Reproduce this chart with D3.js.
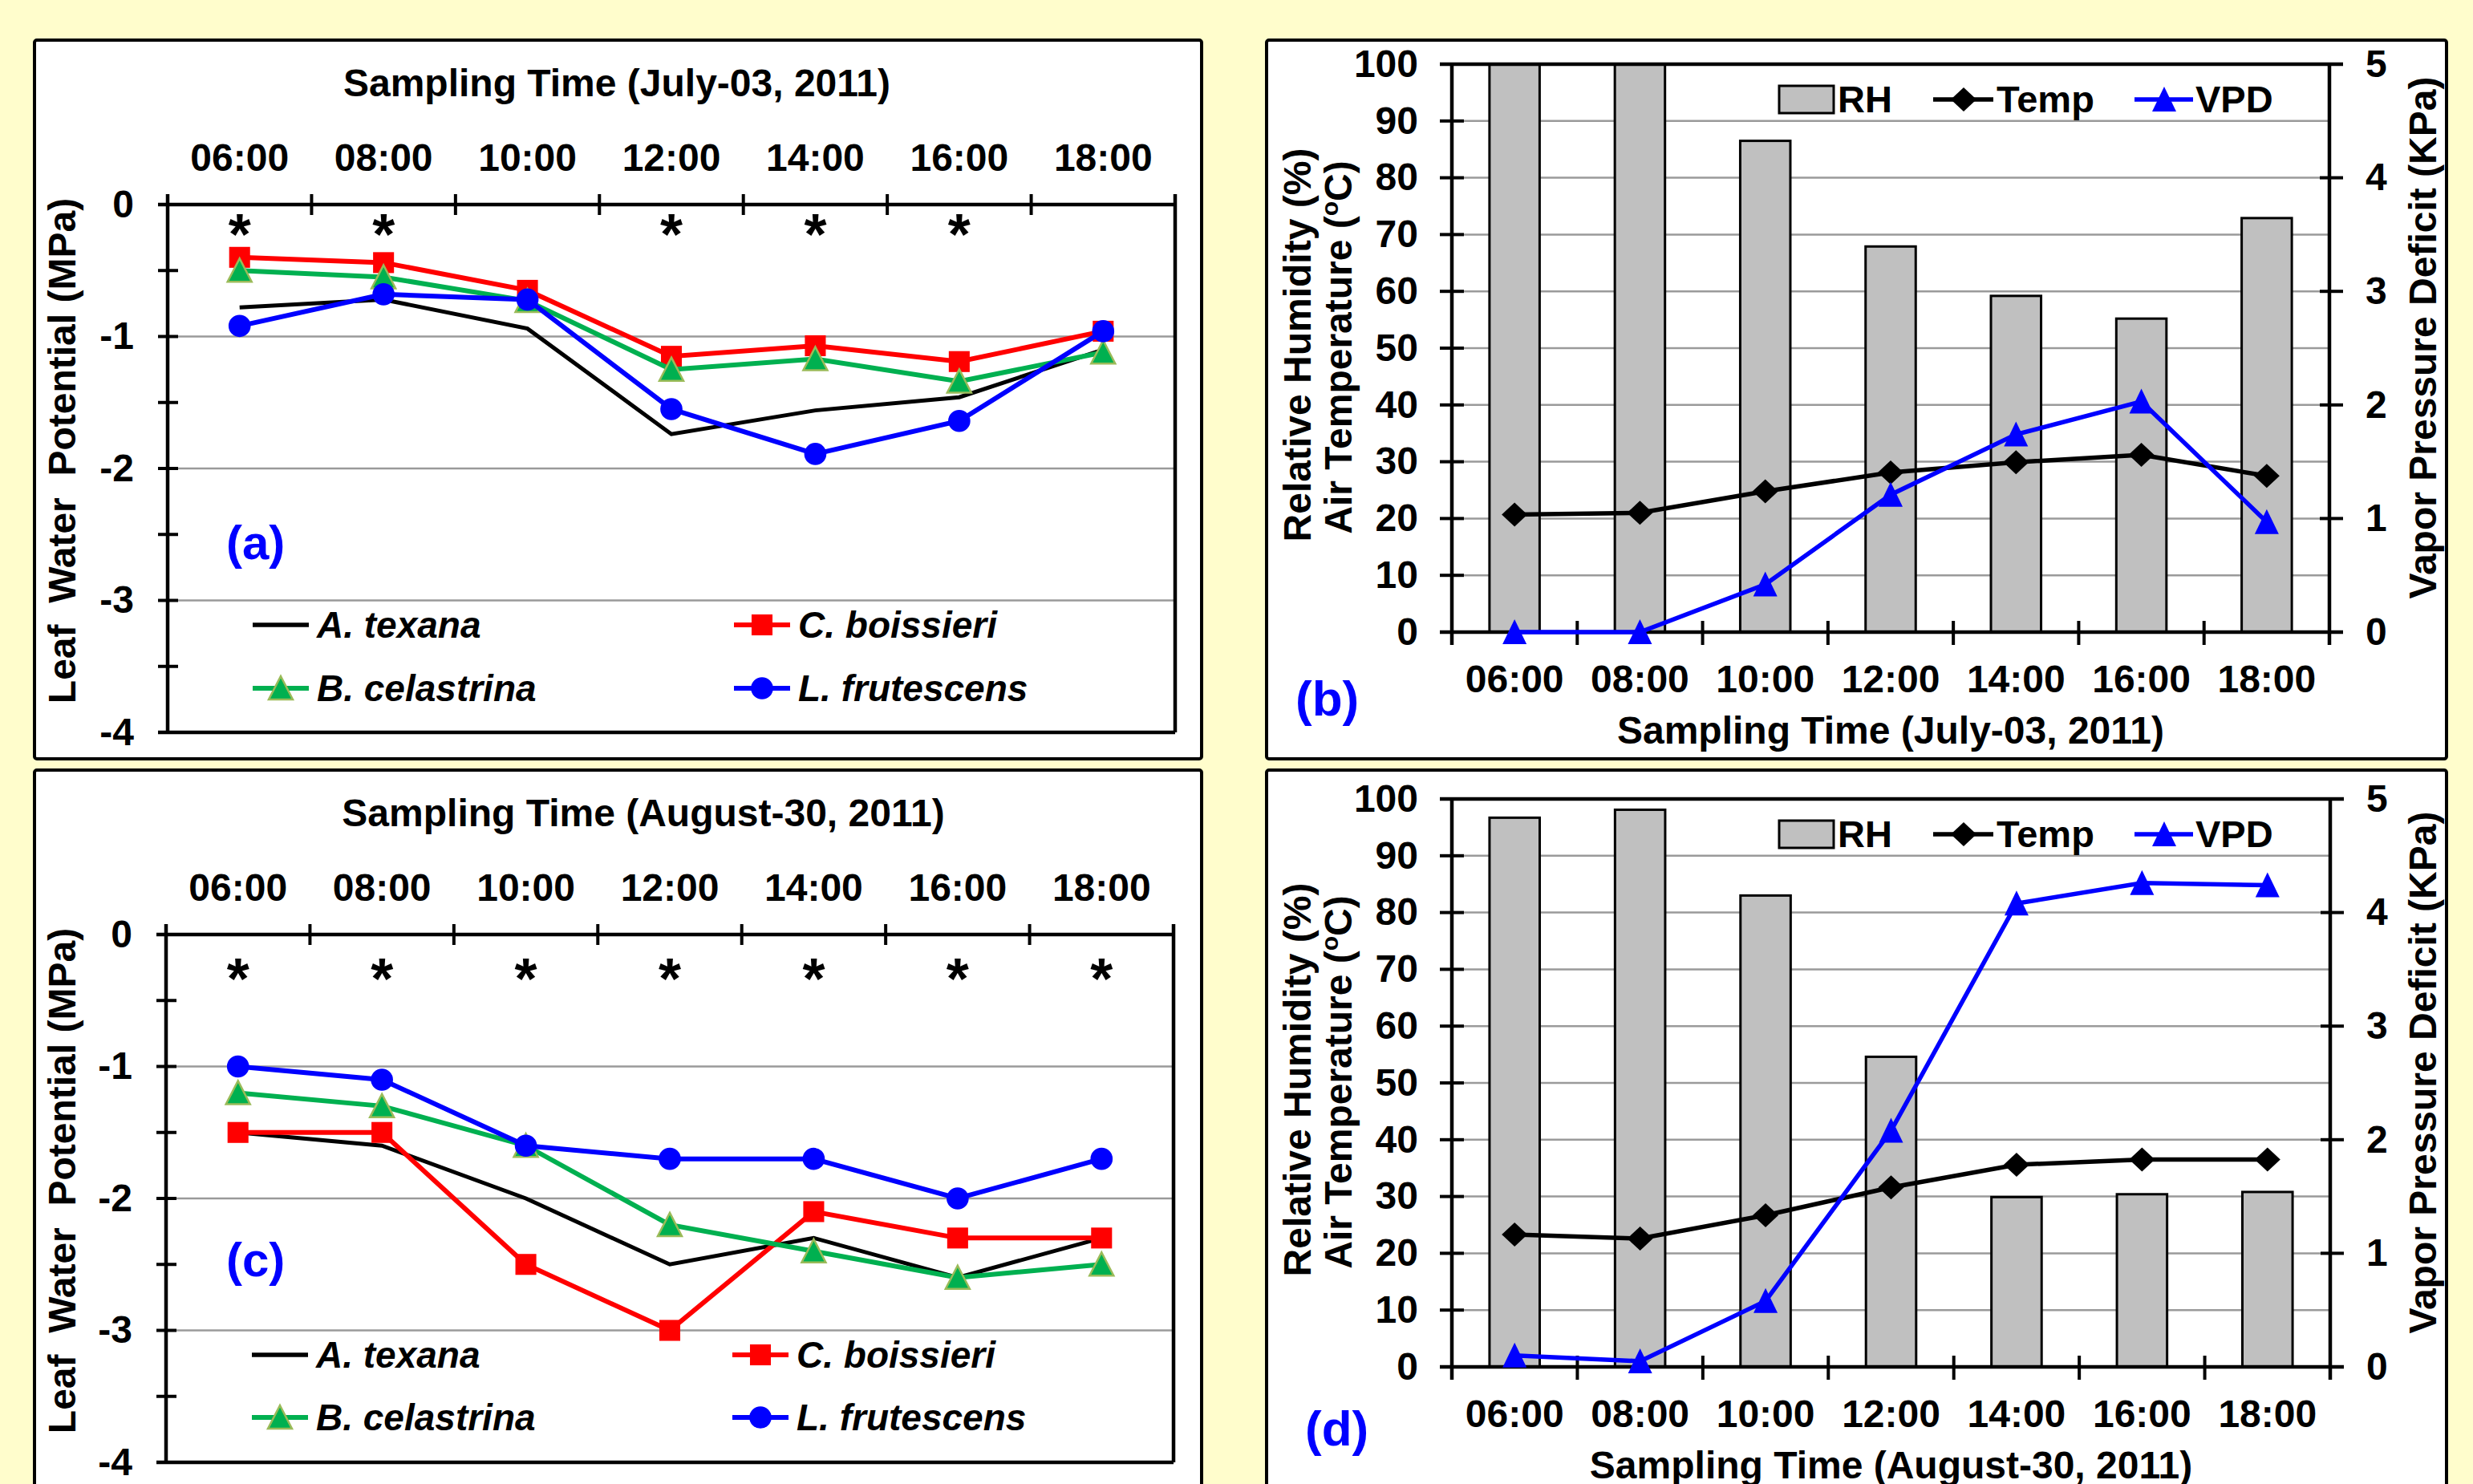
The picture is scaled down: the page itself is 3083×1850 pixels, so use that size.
<!DOCTYPE html>
<html>
<head>
<meta charset="utf-8">
<script src="https://cdn.jsdelivr.net/npm/d3@7"></script>
<style>
  html, body { margin: 0; padding: 0; background: #FFFDCC; }
  svg { display: block; }
</style>
</head>
<body>
<svg id="fig" width="3083" height="1850"></svg>
<script>
const TIMES = ['06:00', '08:00', '10:00', '12:00', '14:00', '16:00', '18:00'];
const SPECIES = ['A. texana', 'C. boissieri', 'B. celastrina', 'L. frutescens'];
const LWP_TICKS = [0, -1, -2, -3, -4];
const RH_TICKS = [0, 10, 20, 30, 40, 50, 60, 70, 80, 90, 100];
const VPD_TICKS = [0, 1, 2, 3, 4, 5];

// leaf water potential (MPa), July-03
const JULY_TEXANA = [-0.78, -0.72, -0.94, -1.74, -1.56, -1.46, -1.10];
const JULY_BOISSIERI = [-0.40, -0.44, -0.65, -1.15, -1.07, -1.19, -0.96];
const JULY_CELASTRINA = [-0.50, -0.55, -0.73, -1.25, -1.17, -1.34, -1.12];
const JULY_FRUTESCENS = [-0.92, -0.68, -0.72, -1.55, -1.89, -1.64, -0.96];
const JULY_STARS = [true, true, false, true, true, true, false];

// leaf water potential (MPa), August-30
const AUG_TEXANA = [-1.5, -1.6, -2.0, -2.5, -2.3, -2.6, -2.3];
const AUG_BOISSIERI = [-1.5, -1.5, -2.5, -3.0, -2.1, -2.3, -2.3];
const AUG_CELASTRINA = [-1.2, -1.3, -1.6, -2.2, -2.4, -2.6, -2.5];
const AUG_FRUTESCENS = [-1.0, -1.1, -1.6, -1.7, -1.7, -2.0, -1.7];
const AUG_STARS = [true, true, true, true, true, true, true];

// weather
const JULY_RH = [100, 100, 86.5, 67.9, 59.2, 55.2, 72.9];
const JULY_TEMP = [20.7, 21.0, 24.8, 28.1, 29.9, 31.2, 27.5];
const JULY_VPD = [0, 0, 0.42, 1.21, 1.74, 2.03, 0.97];
const AUG_RH = [96.7, 98.1, 83.0, 54.6, 29.9, 30.4, 30.8];
const AUG_TEMP = [23.3, 22.6, 26.7, 31.6, 35.6, 36.5, 36.5];
const AUG_VPD = [0.10, 0.05, 0.58, 2.08, 4.08, 4.26, 4.24];

const FONT = '"Liberation Sans", Arial, Helvetica, sans-serif';
const STYLE = {
  'A. texana': { color: '#000000', marker: null },
  'C. boissieri': { color: '#FF0000', marker: 'square' },
  'B. celastrina': { color: '#00B050', marker: 'triangle', edge: '#9BBB59' },
  'L. frutescens': { color: '#0000FF', marker: 'circle' }
};

const svg = d3.select('#fig');
svg.append('rect').attr('width', 3083).attr('height', 1850).attr('fill', '#FFFDCC');

function markerPath(type) {
  if (type === 'square') return d3.symbol(d3.symbolSquare, 680)();
  if (type === 'circle') return d3.symbol(d3.symbolCircle, 600)();
  if (type === 'triangle') return 'M0,-15L15,14L-15,14Z';
  if (type === 'vpd') return 'M0,-16L15,15L-15,15Z';
  if (type === 'diamond') return 'M0,-15L16,0L0,15L-16,0Z';
  return null;
}

function addText(g, str, x, y, size, opts = {}) {
  const t = g.append('text')
    .attr('x', x).attr('y', y)
    .attr('font-family', FONT)
    .attr('font-weight', 'bold')
    .attr('font-size', size)
    .attr('fill', opts.fill || '#000')
    .attr('text-anchor', opts.anchor || 'start')
    .style('white-space', 'pre')
    .text(str);
  if (opts.italic) t.attr('font-style', 'italic');
  if (opts.rotate) t.attr('transform', `rotate(${opts.rotate},${x},${y})`);
  if (opts.dy) t.attr('dy', opts.dy);
  return t;
}

function frame(g, box) {
  g.append('rect')
    .attr('x', box[0]).attr('y', box[1])
    .attr('width', box[2] - box[0]).attr('height', box[3] - box[1])
    .attr('rx', 3)
    .attr('fill', '#fff').attr('stroke', '#000').attr('stroke-width', 4);
}

function styleAxis(axisG, size) {
  axisG.attr('font-family', FONT).attr('font-size', size).attr('font-weight', 'bold');
  axisG.select('.domain').remove();
  axisG.selectAll('text').attr('fill', '#000');
}

function drawLwp(cfg) {
  const g = svg.append('g');
  frame(g, cfg.box);
  const { left, top, right, bottom } = cfg.plot;
  const x = d3.scaleBand().domain(TIMES).range([left, right]);
  const y = d3.scaleLinear().domain([-4, 0]).range([bottom, top]);
  const cx = t => x(t) + x.bandwidth() / 2;

  g.append('g').selectAll('line')
    .data(LWP_TICKS.filter(v => v < 0 && v > -4))
    .join('line')
    .attr('x1', left).attr('x2', right)
    .attr('y1', d => y(d)).attr('y2', d => y(d))
    .attr('stroke', '#9a9a9a').attr('stroke-width', 2.5);

  // y ticks (major and half-unit minor), crossing the axis
  g.append('g').selectAll('line')
    .data(y.ticks(8))
    .join('line')
    .attr('x1', left - 12).attr('x2', left + 13)
    .attr('y1', d => y(d)).attr('y2', d => y(d))
    .attr('stroke', '#000').attr('stroke-width', 4);

  // category boundary ticks on the top axis
  g.append('g').selectAll('line')
    .data([...TIMES.map(t => x(t)), right])
    .join('line')
    .attr('x1', d => d).attr('x2', d => d)
    .attr('y1', top - 13).attr('y2', top + 13)
    .attr('stroke', '#000').attr('stroke-width', 4);

  g.append('path')
    .attr('d', `M${left - 12},${top}H${right}M${left},${top - 13}V${bottom}M${right},${top - 13}V${bottom}M${left - 12},${bottom}H${right}`)
    .attr('fill', 'none').attr('stroke', '#000').attr('stroke-width', 4.5);

  const topAxis = g.append('g').attr('transform', `translate(0,${top})`)
    .call(d3.axisTop(x).tickSize(0).tickPadding(42));
  styleAxis(topAxis, 48);

  const leftAxis = g.append('g').attr('transform', `translate(${left},0)`)
    .call(d3.axisLeft(y).tickValues(LWP_TICKS).tickSize(0).tickPadding(42).tickFormat(d => String(d)));
  styleAxis(leftAxis, 48);

  addText(g, cfg.title, cfg.titleX, top - 135, 48, { anchor: 'middle' });
  addText(g, 'Leaf  Water  Potential (MPa)', 77, top + 307, 48, { anchor: 'middle', rotate: -90, dy: '0.35em' });

  // significance asterisks
  g.append('g').selectAll('text')
    .data(TIMES.filter((t, i) => cfg.stars[i]))
    .join('text')
    .attr('x', d => cx(d)).attr('y', top + cfg.starDy)
    .attr('text-anchor', 'middle')
    .attr('font-family', FONT).attr('font-weight', 'bold').attr('font-size', 72)
    .text('*');

  const line = d3.line().x((d, i) => cx(TIMES[i])).y(d => y(d));
  cfg.series.forEach((vals, k) => {
    const st = STYLE[SPECIES[k]];
    g.append('path').datum(vals)
      .attr('d', line)
      .attr('fill', 'none').attr('stroke', st.color)
      .attr('stroke-width', st.marker ? 6 : 5)
      .attr('stroke-linejoin', 'miter');
    if (st.marker) {
      g.append('g').selectAll('path')
        .data(vals)
        .join('path')
        .attr('transform', (d, i) => `translate(${cx(TIMES[i])},${y(d)})`)
        .attr('d', markerPath(st.marker))
        .attr('fill', st.color)
        .attr('stroke', st.edge || 'none').attr('stroke-width', 2.5);
    }
  });

  // legend
  SPECIES.forEach((name, k) => {
    const st = STYLE[name];
    const lx = cfg.legend.cols[k % 2];
    const ly = top + cfg.legend.rows[Math.floor(k / 2)];
    g.append('line')
      .attr('x1', lx).attr('x2', lx + 70).attr('y1', ly).attr('y2', ly)
      .attr('stroke', st.color).attr('stroke-width', st.marker ? 6 : 5.5);
    if (st.marker) {
      g.append('path')
        .attr('transform', `translate(${lx + 35},${ly})`)
        .attr('d', markerPath(st.marker))
        .attr('fill', st.color)
        .attr('stroke', st.edge || 'none').attr('stroke-width', 2.5);
    }
    addText(g, name, lx + 80, ly + 16, 46, { italic: true });
  });

  addText(g, cfg.label, cfg.labelPos[0], cfg.labelPos[1], 60, { fill: '#0000FF' });
}

function drawMet(cfg) {
  const g = svg.append('g');
  frame(g, cfg.box);
  const { left, top, right, bottom } = cfg.plot;
  const x = d3.scaleBand().domain(TIMES).range([left, right]);
  const yL = d3.scaleLinear().domain([0, 100]).range([bottom, top]);
  const yR = d3.scaleLinear().domain([0, 5]).range([bottom, top]);
  const cx = t => x(t) + x.bandwidth() / 2;
  const bw = x.bandwidth() * 0.4;

  g.append('g').selectAll('line')
    .data(RH_TICKS.filter(v => v > 0 && v < 100))
    .join('line')
    .attr('x1', left).attr('x2', right)
    .attr('y1', d => yL(d)).attr('y2', d => yL(d))
    .attr('stroke', '#9a9a9a').attr('stroke-width', 2.5);

  g.append('g').selectAll('rect')
    .data(cfg.rh)
    .join('rect')
    .attr('x', (d, i) => cx(TIMES[i]) - bw / 2)
    .attr('y', d => yL(d))
    .attr('width', bw)
    .attr('height', d => yL(0) - yL(d))
    .attr('fill', '#C0C0C0').attr('stroke', '#000').attr('stroke-width', 3);

  g.append('g').selectAll('line')
    .data(RH_TICKS)
    .join('line')
    .attr('x1', left - 15).attr('x2', left + 15)
    .attr('y1', d => yL(d)).attr('y2', d => yL(d))
    .attr('stroke', '#000').attr('stroke-width', 4);

  g.append('g').selectAll('line')
    .data(VPD_TICKS)
    .join('line')
    .attr('x1', right - 12).attr('x2', right + 17)
    .attr('y1', d => yR(d)).attr('y2', d => yR(d))
    .attr('stroke', '#000').attr('stroke-width', 4);

  g.append('g').selectAll('line')
    .data([...TIMES.map(t => x(t)), right])
    .join('line')
    .attr('x1', d => d).attr('x2', d => d)
    .attr('y1', bottom - 14).attr('y2', bottom + 16)
    .attr('stroke', '#000').attr('stroke-width', 4);

  g.append('path')
    .attr('d', `M${left - 15},${top}H${right + 17}M${left - 15},${bottom}H${right + 17}M${left},${top}V${bottom + 16}M${right},${top}V${bottom + 16}`)
    .attr('fill', 'none').attr('stroke', '#000').attr('stroke-width', 4.5);

  const bottomAxis = g.append('g').attr('transform', `translate(0,${bottom})`)
    .call(d3.axisBottom(x).tickSize(0).tickPadding(41));
  styleAxis(bottomAxis, 48);

  const leftAxis = g.append('g').attr('transform', `translate(${left},0)`)
    .call(d3.axisLeft(yL).tickValues(RH_TICKS).tickSize(0).tickPadding(42));
  styleAxis(leftAxis, 48);

  const rightAxis = g.append('g').attr('transform', `translate(${right},0)`)
    .call(d3.axisRight(yR).tickValues(VPD_TICKS).tickSize(0).tickPadding(45).tickFormat(d => String(d)));
  styleAxis(rightAxis, 48);

  addText(g, cfg.title, (left + right) / 2, bottom + 139, 48, { anchor: 'middle' });
  addText(g, 'Relative Humidity (%)', 1617, top + 350, 48, { anchor: 'middle', rotate: -90, dy: '0.35em' });
  const t2 = addText(g, 'Air Temperature (', 1668, top + 353, 48, { anchor: 'middle', rotate: -90, dy: '0.35em' });
  t2.append('tspan').attr('font-size', 30).attr('dy', '-0.55em').text('o');
  t2.append('tspan').attr('dy', '0.35em').text('C)');
  addText(g, 'Vapor Pressure Deficit (KPa)', 3020, top + 341, 48, { anchor: 'middle', rotate: -90, dy: '0.35em' });

  g.append('path').datum(cfg.temp)
    .attr('d', d3.line().x((d, i) => cx(TIMES[i])).y(d => yL(d)))
    .attr('fill', 'none').attr('stroke', '#000').attr('stroke-width', 5.5);
  g.append('g').selectAll('path')
    .data(cfg.temp)
    .join('path')
    .attr('transform', (d, i) => `translate(${cx(TIMES[i])},${yL(d)})`)
    .attr('d', markerPath('diamond'))
    .attr('fill', '#000');

  g.append('path').datum(cfg.vpd)
    .attr('d', d3.line().x((d, i) => cx(TIMES[i])).y(d => yR(d)))
    .attr('fill', 'none').attr('stroke', '#0000FF').attr('stroke-width', 5.5);
  g.append('g').selectAll('path')
    .data(cfg.vpd)
    .join('path')
    .attr('transform', (d, i) => `translate(${cx(TIMES[i])},${yR(d)})`)
    .attr('d', markerPath('vpd'))
    .attr('fill', '#0000FF');

  // legend
  const ly = top + 44;
  g.append('rect')
    .attr('x', 2218).attr('y', ly - 17).attr('width', 68).attr('height', 34)
    .attr('fill', '#C0C0C0').attr('stroke', '#000').attr('stroke-width', 3);
  addText(g, 'RH', 2291, ly + 16, 47);
  g.append('line').attr('x1', 2410).attr('x2', 2485).attr('y1', ly).attr('y2', ly)
    .attr('stroke', '#000').attr('stroke-width', 5.5);
  g.append('path').attr('transform', `translate(2448,${ly})`).attr('d', markerPath('diamond')).attr('fill', '#000');
  addText(g, 'Temp', 2489, ly + 16, 47);
  g.append('line').attr('x1', 2661).attr('x2', 2734).attr('y1', ly).attr('y2', ly)
    .attr('stroke', '#0000FF').attr('stroke-width', 5.5);
  g.append('path').attr('transform', `translate(2698,${ly})`).attr('d', markerPath('vpd')).attr('fill', '#0000FF');
  addText(g, 'VPD', 2737, ly + 16, 47);

  addText(g, cfg.label, cfg.labelPos[0], cfg.labelPos[1], 62, { fill: '#0000FF' });
}

drawLwp({
  box: [43, 50, 1498, 946],
  plot: { left: 209, top: 255, right: 1465, bottom: 913 },
  title: 'Sampling Time (July-03, 2011)',
  titleX: 769,
  series: [JULY_TEXANA, JULY_BOISSIERI, JULY_CELASTRINA, JULY_FRUTESCENS],
  stars: JULY_STARS,
  starDy: 62,
  legend: { cols: [315, 915], rows: [524, 603] },
  label: '(a)',
  labelPos: [282, 697]
});

drawLwp({
  box: [43, 960, 1498, 1870],
  plot: { left: 207, top: 1165, right: 1463, bottom: 1823 },
  title: 'Sampling Time (August-30, 2011)',
  titleX: 802,
  series: [AUG_TEXANA, AUG_BOISSIERI, AUG_CELASTRINA, AUG_FRUTESCENS],
  stars: AUG_STARS,
  starDy: 80,
  legend: { cols: [314, 913], rows: [524, 602] },
  label: '(c)',
  labelPos: [282, 1591]
});

drawMet({
  box: [1579, 50, 3050, 946],
  plot: { left: 1810, top: 80, right: 2904, bottom: 788 },
  title: 'Sampling Time (July-03, 2011)',
  rh: JULY_RH, temp: JULY_TEMP, vpd: JULY_VPD,
  label: '(b)',
  labelPos: [1615, 892]
});

drawMet({
  box: [1579, 960, 3050, 1870],
  plot: { left: 1810, top: 996, right: 2905, bottom: 1704 },
  title: 'Sampling Time (August-30, 2011)',
  rh: AUG_RH, temp: AUG_TEMP, vpd: AUG_VPD,
  label: '(d)',
  labelPos: [1627, 1802]
});
</script>
</body>
</html>
